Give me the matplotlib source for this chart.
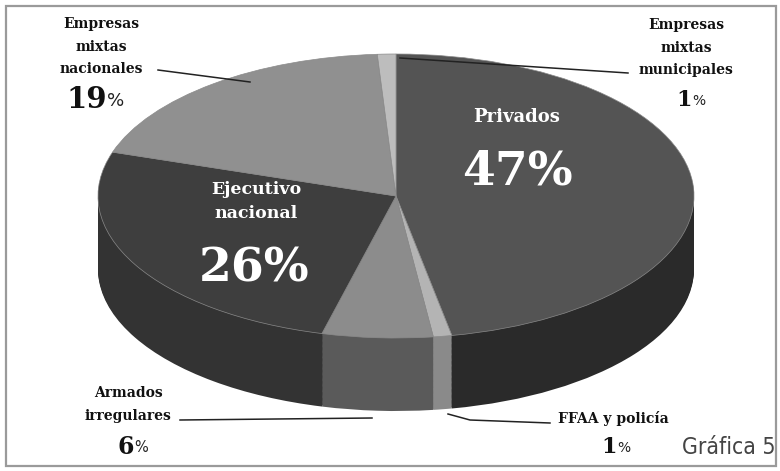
import matplotlib.pyplot as plt
from matplotlib.lines import Line2D
from matplotlib.patches import Rectangle

# data (clockwise from 12 o'clock)
labels = ["Privados", "FFAA y policía", "Armados irregulares",
          "Ejecutivo nacional", "Empresas mixtas nacionales",
          "Empresas mixtas municipales"]
shares = [47, 1, 6, 26, 19, 1]
top_colors = ["#545454", "#b4b4b4", "#8c8c8c", "#3e3e3e", "#909090", "#bdbdbd"]
side_colors = ["#2a2a2a", "#8a8a8a", "#5a5a5a", "#333333", "#555555", "#8a8a8a"]

W, H = 780, 471
fig = plt.figure(figsize=(W / 100, H / 100), dpi=100)
ax = fig.add_axes([0, 0, 1, 1])

# pie geometry in pixels
cx, cy = 396, 196      # centre of top face (from top)
rx, ry = 298, 142      # semi axes
depth = 73
n_layers = 60

# side walls: stack of pies shifted downwards
for k in range(n_layers, 0, -1):
    dy = -depth / ry * k / n_layers
    ax.pie(shares, colors=side_colors, startangle=90, counterclock=False,
           center=(0, dy), radius=1, wedgeprops={"linewidth": 0})
# top face
ax.pie(shares, colors=top_colors, startangle=90, counterclock=False,
       center=(0, 0), radius=1,
       wedgeprops={"linewidth": 0.5, "edgecolor": "#8a8a8a"})

ax.set_aspect("auto")
ax.set_xlim(-cx / rx, (W - cx) / rx)
ax.set_ylim(-(H - cy) / ry, cy / ry)
ax.axis("off")


def fx(x):
    return x / W


def fy(y):
    return 1 - y / H


serif = ["DejaVu Serif"]

# labels inside the pie
fig.text(fx(517), fy(117), "Privados", color="white", fontsize=13,
         fontweight="bold", family=serif, ha="center", va="center")
fig.text(fx(517), fy(172), "47%", color="white", fontsize=34,
         fontweight="bold", family=serif, ha="center", va="center")
fig.text(fx(256), fy(190), "Ejecutivo", color="white", fontsize=12.5,
         fontweight="bold", family=serif, ha="center", va="center")
fig.text(fx(256), fy(214), "nacional", color="white", fontsize=12.5,
         fontweight="bold", family=serif, ha="center", va="center")
fig.text(fx(254), fy(268), "26%", color="white", fontsize=34,
         fontweight="bold", family=serif, ha="center", va="center")


def outside(x, y_lines, lines, y_num, num, big):
    for yy, t in zip(y_lines, lines):
        fig.text(fx(x), fy(yy), t, fontsize=10, fontweight="heavy",
                 family=serif, ha="center", va="center", color="#111111")
    fig.text(fx(x + 6), fy(y_num), num, fontsize=big, fontweight="heavy",
             family=serif, ha="right", va="center", color="#111111")
    fig.text(fx(x + 6), fy(y_num + 1), "%", fontsize=big * 0.62,
             family=["DejaVu Sans"], ha="left", va="center", color="#222222")


outside(101, [24, 47, 69], ["Empresas", "mixtas", "nacionales"], 100, "19", 21)
outside(686, [25, 48, 70], ["Empresas", "mixtas", "municipales"], 100, "1", 16)
outside(128, [393, 416], ["Armados", "irregulares"], 447, "6", 17)
fig.text(fx(613), fy(419), "FFAA y policía", fontsize=10, fontweight="heavy",
         family=serif, ha="center", va="center", color="#111111")
fig.text(fx(617), fy(447), "1", fontsize=16, fontweight="heavy",
         family=serif, ha="right", va="center", color="#111111")
fig.text(fx(617), fy(448), "%", fontsize=10, family=["DejaVu Sans"],
         ha="left", va="center", color="#222222")

fig.text(fx(775), fy(448), "Gráfica 5", fontsize=16.5, fontstretch="condensed",
         family=["DejaVu Sans"], ha="right", va="center", color="#444444")

# leader lines
leaders = [([158, 250], [70, 82]),
           ([400, 628], [58, 73]),
           ([180, 372], [420, 418]),
           ([448, 470, 550], [414, 420, 423])]
for xs, ys in leaders:
    fig.add_artist(Line2D([fx(v) for v in xs], [fy(v) for v in ys],
                          color="#222222", lw=1.1))

# frame
fig.add_artist(Rectangle((fx(6), fy(466)), fx(770), (466 - 6) / H,
                         fill=False, edgecolor="#9a9a9a", lw=1.6))

fig.savefig("out.png", dpi=100)
